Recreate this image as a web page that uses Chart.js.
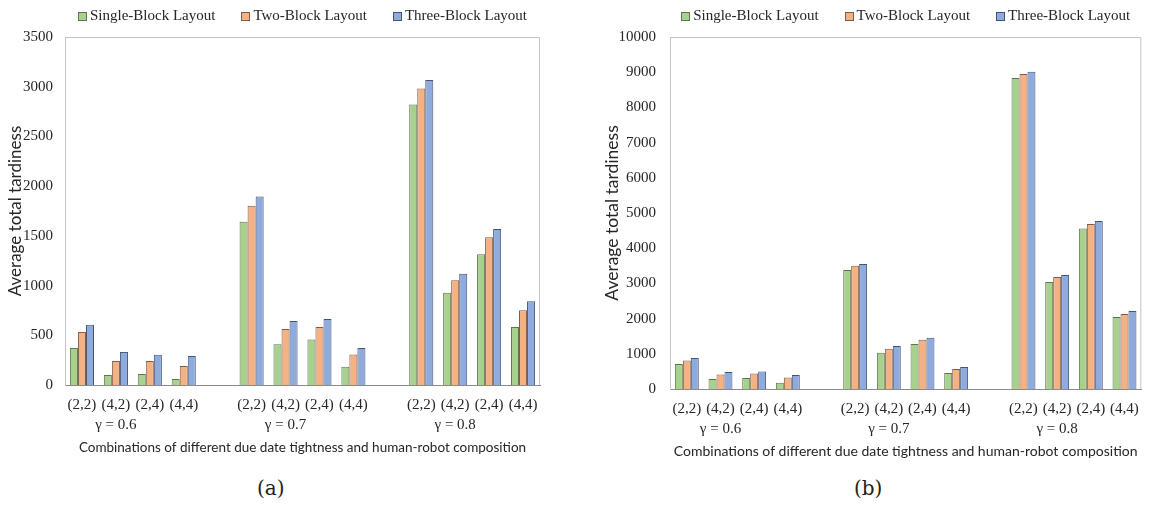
<!DOCTYPE html>
<html>
<head>
<meta charset="utf-8">
<script src="https://cdn.jsdelivr.net/npm/chart.js@4.4.1/dist/chart.umd.min.js"></script>
<style>
  body { margin: 0; background: #fff; width: 1149px; height: 506px; position: relative; overflow: hidden; }
  .panel { position: absolute; top: 0; height: 470px; }
  #panelA { left: 0; width: 560px; }
  #panelB { left: 595px; width: 554px; }
  .cap { position: absolute; top: 476px; font-family: "DejaVu Serif", serif; font-size: 20px; color: #222; }
</style>
</head>
<body>
<div class="panel" id="panelA"><canvas id="chartA"></canvas></div>
<div class="panel" id="panelB"><canvas id="chartB"></canvas></div>
<div class="cap" style="left:257px">(a)</div>
<div class="cap" style="left:854px">(b)</div>
<script>
const categories = ['(2,2)', '(4,2)', '(2,4)', '(4,4)'];
const gammaLabels = ['γ = 0.6', 'γ = 0.7', 'γ = 0.8'];
const seriesNames = ['Single-Block Layout', 'Two-Block Layout', 'Three-Block Layout'];

// values per panel, order: γ=0.6 (2,2)(4,2)(2,4)(4,4), then γ=0.7, then γ=0.8
const singleA = [373, 101, 111, 60, 1643, 410, 457, 183, 2820, 927, 1314, 583];
const twoA = [534, 242, 242, 192, 1804, 563, 583, 307, 2983, 1053, 1486, 753];
const threeA = [605, 333, 305, 292, 1895, 643, 663, 373, 3068, 1120, 1568, 843];

const singleB = [710, 284, 312, 179, 3381, 1031, 1278, 454, 8835, 3040, 4563, 2045];
const twoB = [813, 415, 443, 330, 3503, 1145, 1400, 568, 8950, 3182, 4688, 2131];
const threeB = [880, 483, 500, 398, 3551, 1221, 1457, 625, 9015, 3239, 4773, 2216];

const fills = ['#A9D18E', '#F4B183', '#8FAADC'];
const edges = ['#5f7550', '#7e5c48', '#435573'];

// tick labels with an empty slot between gamma groups
const tickLabels = [];
gammaLabels.forEach((g, gi) => {
  categories.forEach((c, ci) => tickLabels.push(ci === 1 ? [c, g] : [c]));
  if (gi < gammaLabels.length - 1) tickLabels.push('');
});

function withGaps(values) {
  const out = [];
  values.forEach((v, i) => {
    out.push(v);
    if (i % 4 === 3 && i < values.length - 1) out.push(null);
  });
  return out;
}

// legend drawn centred over the plot area
const boxLegend = {
  id: 'boxLegend',
  afterDraw(chart, args, o) {
    const ctx = chart.ctx, area = chart.chartArea;
    ctx.save();
    ctx.font = o.font;
    const items = chart.data.datasets.map(ds => ({
      text: ds.label, fill: ds.backgroundColor, stroke: ds.borderColor,
      w: ctx.measureText(ds.label).width
    }));
    const total = items.reduce((s, it) => s + o.box + o.gap + it.w, 0) + o.spacing * (items.length - 1);
    let x = (area.left + area.right) / 2 - total / 2;
    items.forEach(it => {
      const top = Math.round(o.y - o.box / 2);
      ctx.fillStyle = it.fill;
      ctx.fillRect(Math.round(x), top, o.box, o.box);
      ctx.strokeStyle = it.stroke;
      ctx.lineWidth = 1;
      ctx.strokeRect(Math.round(x) + 0.5, top + 0.5, o.box - 1, o.box - 1);
      ctx.fillStyle = o.color;
      ctx.textBaseline = 'middle';
      ctx.textAlign = 'left';
      ctx.fillText(it.text, x + o.box + o.gap, o.y);
      x += o.box + o.gap + it.w + o.spacing;
    });
    ctx.restore();
  }
};

// light frame on top and right of the plot
const frame = {
  id: 'frame',
  afterDraw(chart) {
    const ctx = chart.ctx, a = chart.chartArea;
    ctx.save();
    ctx.strokeStyle = '#c4c4c4';
    ctx.lineWidth = 1;
    ctx.beginPath();
    ctx.moveTo(a.left, a.top + 0.5);
    ctx.lineTo(a.right - 0.5, a.top + 0.5);
    ctx.lineTo(a.right - 0.5, a.bottom);
    ctx.stroke();
    ctx.restore();
  }
};

function makeChart(id, series, cfg) {
  const tickFont = { family: 'Liberation Serif', size: 15, lineHeight: 1.35 };
  new Chart(document.getElementById(id), {
    type: 'bar',
    data: {
      labels: tickLabels,
      datasets: series.map((vals, i) => ({
        label: seriesNames[i],
        data: withGaps(vals),
        backgroundColor: fills[i],
        borderColor: edges[i],
        borderWidth: 1,
        categoryPercentage: 0.71,
        barPercentage: 1
      }))
    },
    options: {
      responsive: true,
      maintainAspectRatio: false,
      animation: false,
      layout: { padding: { top: 37, right: cfg.padRight, left: 0, bottom: 0 } },
      plugins: {
        legend: { display: false },
        tooltip: { enabled: false },
        boxLegend: { font: '15px "Liberation Serif"', color: '#262626', box: 9, gap: 3, spacing: 26, y: 16 }
      },
      scales: {
        x: {
          grid: { display: false, drawTicks: false },
          border: { color: '#8a8a8a' },
          ticks: { font: tickFont, color: '#262626', padding: 10, maxRotation: 0, autoSkip: false },
          title: {
            display: true,
            text: 'Combinations of different due date tightness and human-robot composition',
            font: { family: 'Lato', size: cfg.xTitleSize },
            color: '#262626',
            padding: { top: 4, bottom: cfg.xTitlePad }
          },
          afterFit: s => { s.height = cfg.xHeight; }
        },
        y: {
          min: 0,
          max: cfg.yMax,
          grid: { display: false, drawTicks: false },
          border: { color: '#c4c4c4' },
          ticks: {
            stepSize: cfg.yStep,
            font: { family: 'Liberation Serif', size: 15 },
            color: '#262626',
            padding: cfg.yTickPad,
            callback: v => String(v)
          },
          title: {
            display: true,
            text: 'Average total tardiness',
            font: { family: 'Lato', size: cfg.yTitleSize },
            color: '#262626',
            padding: { top: cfg.yTitlePad, bottom: 2 }
          },
          afterFit: s => { s.width = cfg.yWidth; }
        }
      }
    },
    plugins: [boxLegend, frame]
  });
}

makeChart('chartA', [singleA, twoA, threeA], {
  yMax: 3500, yStep: 500, padRight: 20, yWidth: 65, yTickPad: 12, yTitlePad: 5, yTitleSize: 17,
  xHeight: 85, xTitlePad: 14, xTitleSize: 13.5
});
makeChart('chartB', [singleB, twoB, threeB], {
  yMax: 10000, yStep: 1000, padRight: 4, yWidth: 75, yTickPad: 14, yTitlePad: 7, yTitleSize: 17.5,
  xHeight: 81, xTitlePad: 10, xTitleSize: 14
});
</script>
</body>
</html>
